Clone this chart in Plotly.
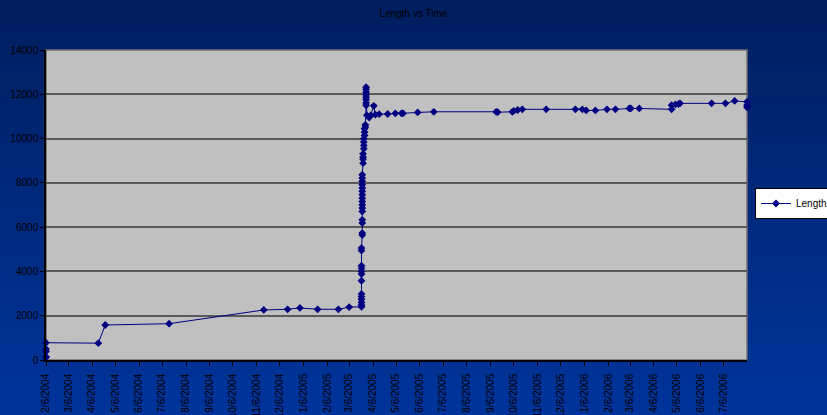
import plotly.graph_objects as go

# ---- data ----
dates = [
    "2004-02-06", "2004-02-06", "2004-02-06", "2004-02-06", "2004-02-06",
    "2004-04-14", "2004-04-23", "2004-07-15", "2004-11-15", "2004-12-16",
    "2005-01-01", "2005-01-24", "2005-02-20", "2005-03-06",
    "2005-03-22", "2005-03-22", "2005-03-22", "2005-03-22", "2005-03-22",
    "2005-03-22", "2005-03-22", "2005-03-22", "2005-03-22", "2005-03-22",
    "2005-03-22", "2005-03-22", "2005-03-22",
    "2005-03-23", "2005-03-23", "2005-03-23", "2005-03-23", "2005-03-23",
    "2005-03-23", "2005-03-23", "2005-03-23", "2005-03-23", "2005-03-23",
    "2005-03-23", "2005-03-23", "2005-03-23", "2005-03-23", "2005-03-23",
    "2005-03-23",
    "2005-03-24", "2005-03-24", "2005-03-24", "2005-03-24",
    "2005-03-25", "2005-03-25", "2005-03-25", "2005-03-25",
    "2005-03-26", "2005-03-26", "2005-03-26",
    "2005-03-27", "2005-03-27",
    "2005-03-28", "2005-03-28", "2005-03-28", "2005-03-28", "2005-03-28",
    "2005-03-28", "2005-03-28", "2005-03-28",
    "2005-03-29", "2005-04-01", "2005-04-03", "2005-04-07", "2005-04-09",
    "2005-04-14", "2005-04-25", "2005-05-05", "2005-05-13", "2005-05-15",
    "2005-06-03", "2005-06-24",
    "2005-09-13", "2005-09-15", "2005-10-04", "2005-10-06", "2005-10-11",
    "2005-10-17", "2005-11-17", "2005-12-25", "2006-01-03", "2006-01-08",
    "2006-01-20", "2006-02-04", "2006-02-15", "2006-03-05", "2006-03-07",
    "2006-03-18", "2006-04-29", "2006-04-29", "2006-05-04", "2006-05-08",
    "2006-05-10", "2006-06-20", "2006-07-08", "2006-07-20",
    "2006-08-05", "2006-08-05", "2006-08-05",
]
lengths = [
    110, 150, 380, 500, 780,
    760, 1580, 1640, 2260, 2290,
    2350, 2290, 2290, 2390,
    2400, 2480, 2600, 2740, 2860,
    2980, 3580, 3880, 4000, 4140,
    4260, 4940, 5060,
    5640, 5730, 6190, 6330, 6710,
    6860, 7010, 7160, 7310, 7460,
    7620, 7770, 7920, 8070, 8220,
    8370,
    8890, 9070, 9170, 9310,
    9540, 9690, 9840, 9990,
    10140, 10290, 10440,
    10520, 10620,
    11500, 11620, 11770, 11870, 11980,
    12100, 12220, 12320,
    11050, 10950, 11050, 11480, 11080,
    11100, 11110, 11140, 11140, 11140,
    11180, 11210,
    11210, 11190, 11210, 11250, 11290,
    11320, 11320, 11320, 11320, 11270,
    11270, 11320, 11320, 11360, 11360,
    11360, 11320, 11510, 11540, 11560,
    11590, 11590, 11590, 11700,
    11660, 11510, 11410,
]
series_name = "Length"
chart_title = "Length vs Time"
x_range = ["2004-02-06", "2006-08-05"]
y_range = [0, 14000]

# ---- figure ----
W, H = 827, 415
ML, MR, MT, MB = 46, 80, 50, 55
PW, PH = W - ML - MR, H - MT - MB

def px_x(px):
    return (px - ML) / PW

def px_y(py):
    return (H - MB - py) / PH

shapes = []
top_c = (0, 30, 94)
bot_c = (0, 52, 156)
step = 5
for i in range(0, H, step):
    t = (i + step / 2) / H
    c = tuple(round(a + (b - a) * t) for a, b in zip(top_c, bot_c))
    shapes.append(dict(
        type="rect", xref="paper", yref="paper", layer="below",
        x0=px_x(-10), x1=px_x(W + 10),
        y0=px_y(i + step + 0.6), y1=px_y(i - 0.6 if i > 0 else -10),
        fillcolor="rgb(%d,%d,%d)" % c, line=dict(width=0),
    ))
shapes.append(dict(
    type="rect", xref="paper", yref="paper", layer="below",
    x0=0, x1=1, y0=0, y1=1, fillcolor="#C0C0C0",
    line=dict(color="#707070", width=1.5),
))

fig = go.Figure()
fig.add_trace(go.Scatter(
    x=dates, y=lengths, mode="lines+markers", name=series_name,
    line=dict(color="#000080", width=1),
    marker=dict(symbol="diamond", size=6, color="#000080"),
    cliponaxis=False,
))

font_family = "Liberation Sans, Arial, sans-serif"
fig.update_layout(
    width=W, height=H,
    margin=dict(l=ML, r=MR, t=MT, b=MB, autoexpand=False),
    paper_bgcolor="rgb(0,40,125)",
    plot_bgcolor="#C0C0C0",
    font=dict(family=font_family, size=10, color="#000000"),
    title=dict(text=chart_title, x=0.5, xref="container", xanchor="center",
               y=1 - 13 / H, yref="container", yanchor="middle",
               font=dict(size=10, color="#000000", family=font_family)),
    shapes=shapes,
    showlegend=True,
    legend=dict(x=px_x(755), y=px_y(203.5), xanchor="left", yanchor="middle",
                bgcolor="#FFFFFF", bordercolor="#000000", borderwidth=1,
                font=dict(size=10, color="#000000"), itemwidth=30),
    xaxis=dict(
        type="date", range=x_range, tick0=x_range[0], dtick="M1",
        tickformat="%-m/%-d/%Y", tickangle=-90,
        ticks="outside", ticklen=4, tickcolor="#000000",
        showgrid=False, zeroline=False,
        showline=True, linecolor="#000000", linewidth=1.5,
        tickfont=dict(size=10, color="#000000"), automargin=False,
        ticklabelstandoff=4,
    ),
    yaxis=dict(
        range=y_range, dtick=2000, tick0=0,
        ticks="outside", ticklen=4, tickcolor="#000000",
        showgrid=True, gridcolor="#5A5A5A", gridwidth=1.5,
        zeroline=False, showline=True, linecolor="#000000", linewidth=1.5,
        tickfont=dict(size=10, color="#000000"), automargin=False,
        tickformat="d",
    ),
)

fig.write_html(
    "out.html",
    config={"displayModeBar": False},
    post_script="document.body.style.margin='0';document.body.style.overflow='hidden';",
)
